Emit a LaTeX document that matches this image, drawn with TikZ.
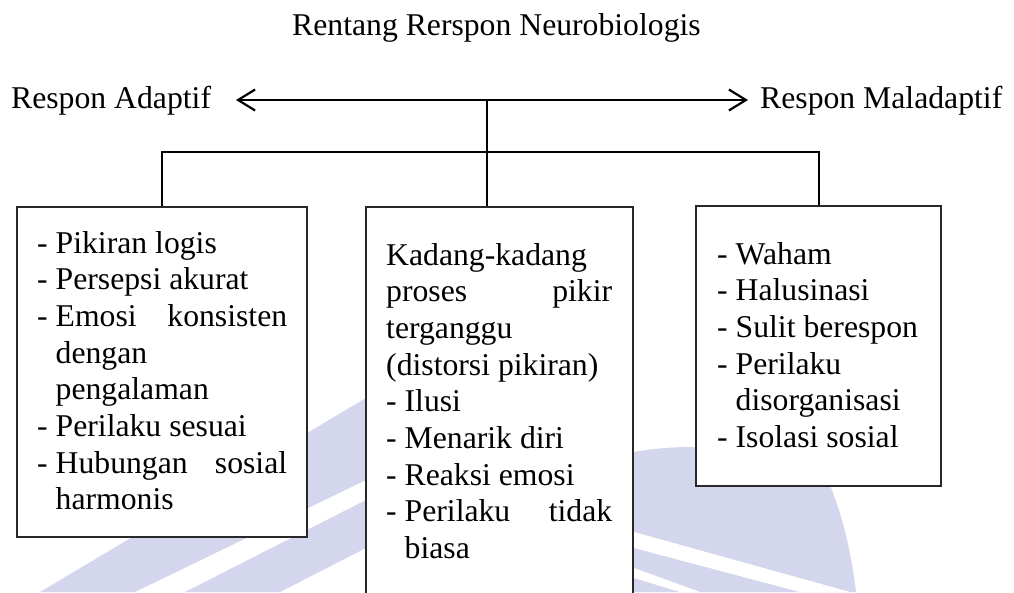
\documentclass[tikz,border=0pt]{standalone}
\usepackage{fontspec}
\setmainfont{Liberation Serif}
\usetikzlibrary{arrows.meta}
\definecolor{wm}{RGB}{211,214,236}
\definecolor{bord}{RGB}{40,40,40}
\newcommand\ind{\hphantom{-\ }}
\newcommand\txt{\fontsize{31.7}{36.7}\selectfont}
\newcommand\lns[2]{\vtop{\hsize=#1\relax\txt\baselineskip=36.7pt\lineskiplimit=-20pt #2}}
\tikzset{
  box/.style={draw=bord, line width=1.3pt, fill=white, inner sep=0pt},
  txtnode/.style={anchor=base west, inner sep=0pt, font=\txt},
  link/.style={line width=2pt, black},
  dblarrow/.style={line width=2.2pt, black, {Straight Barb[length=17pt,width=21pt]}-{Straight Barb[length=17pt,width=21pt]}},
  wmark/.style={fill=wm, draw=none}
}
\begin{document}
\begin{tikzpicture}[x=1pt, y=-1pt]
\useasboundingbox (0,0) rectangle (1014,592);
\clip (0,0) rectangle (1014,592);
\fill[white] (0,0) rectangle (1014,592);

% watermark
\path[wmark] (40,592) -- (135,592) -- (366,480) -- (366,398) -- cycle;
\path[wmark] (185,592) -- (280,592) -- (366,548) -- (366,500) -- cycle;
\path[wmark] (634,452) .. controls (700,440) and (780,450) .. (827,478)
  .. controls (845,520) and (852,560) .. (856,592) -- (634,592) -- cycle;
\fill[white] (634,532) -- (634,548) -- (800,592) -- (850,592) -- cycle;
\fill[white] (634,568) -- (634,578) -- (680,592) -- (700,592) -- cycle;

% boxes
\node[box, minimum width=290pt, minimum height=330pt] (lb) at (162,372) {};
\node[box, minimum width=267pt, minimum height=420pt] (mb) at (499.5,417) {};
\node[box, minimum width=245pt, minimum height=280pt] (rb) at (818.5,346) {};

% title and labels
\node[txtnode] (title) at (292,35) {Rentang Rerspon Neurobiologis};
\node[txtnode] (adp) at (11,108) {Respon Adaptif};
\node[txtnode] (mal) at (760,108) {Respon Maladaptif};

% arrow
\coordinate (aL) at (236,100);
\coordinate (aR) at (748,100);
\draw[dblarrow] (aL) -- (aR);

% connectors
\coordinate (mtop) at ([xshift=-12.5pt]mb.north);
\draw[link] (mtop) -- (mtop |- aL);
\draw[link] (lb.north) -- ++(0,-54) -| (rb.north);

% box texts
\node[txtnode] (lt) at (37,253) {\lns{250pt}{%
  \hbox{- Pikiran logis}
  \hbox{- Persepsi akurat}
  \hbox to\hsize{- Emosi\hfill konsisten}
  \hbox{\ind dengan}
  \hbox{\ind pengalaman}
  \hbox{- Perilaku sesuai}
  \hbox to\hsize{- Hubungan\hfill sosial}
  \hbox{\ind harmonis}}};

\node[txtnode] (mt) at (386,265) {\lns{226pt}{%
  \hbox{Kadang-kadang}
  \hbox to\hsize{proses\hfill pikir}
  \hbox{terganggu}
  \hbox{(distorsi pikiran)}
  \hbox{- Ilusi}
  \hbox{- Menarik diri}
  \hbox{- Reaksi emosi}
  \hbox to\hsize{- Perilaku\hfill tidak}
  \hbox{\ind biasa}}};

\node[txtnode] (rt) at (717,264) {\lns{220pt}{%
  \hbox{- Waham}
  \hbox{- Halusinasi}
  \hbox{- Sulit berespon}
  \hbox{- Perilaku}
  \hbox{\ind disorganisasi}
  \hbox{- Isolasi sosial}}};
\end{tikzpicture}
\end{document}
